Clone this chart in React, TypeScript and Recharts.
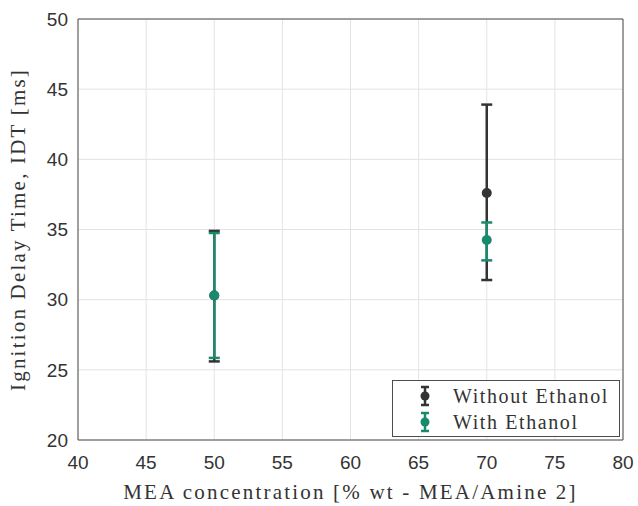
import React from "react";
import {
  ScatterChart,
  Scatter,
  XAxis,
  YAxis,
  CartesianGrid,
  ErrorBar,
  ReferenceLine,
} from "recharts";

const concentrations = [50, 70];
const withoutMean = [30.3, 37.6];
const withoutLow = [4.7, 6.2];
const withoutHigh = [4.6, 6.3];
const withMean = [30.3, 34.25];
const withLow = [4.45, 1.45];
const withHigh = [4.45, 1.25];
const xTicks = [40, 45, 50, 55, 60, 65, 70, 75, 80];
const yTicks = [20, 25, 30, 35, 40, 45, 50];

const DARK = "#333333";
const GREEN = "#1a8a6c";
const AXIS = "#4d4d4d";
const TEXT = "#333333";
const SERIF = "'Liberation Serif', 'DejaVu Serif', serif";
const SANS = "'Liberation Sans', Arial, sans-serif";

const withoutData = concentrations.map((x, i) => ({
  x,
  y: withoutMean[i],
  err: [withoutLow[i], withoutHigh[i]],
}));
const withData = concentrations.map((x, i) => ({
  x,
  y: withMean[i],
  err: [withLow[i], withHigh[i]],
}));

function LegendIcon({ color }: { color: string }) {
  return (
    <svg width={14} height={22} style={{ display: "block" }}>
      <line x1={7} y1={2} x2={7} y2={20} stroke={color} strokeWidth={2.5} />
      <line x1={3} y1={2} x2={11} y2={2} stroke={color} strokeWidth={2.5} />
      <line x1={3} y1={20} x2={11} y2={20} stroke={color} strokeWidth={2.5} />
      <circle cx={7} cy={11} r={4.5} fill={color} />
    </svg>
  );
}

function LegendBox() {
  const items = [
    { label: "Without Ethanol", color: DARK },
    { label: "With Ethanol", color: GREEN },
  ];
  return (
    <div
      style={{
        position: "absolute",
        left: 392,
        top: 380,
        border: `1px solid ${AXIS}`,
        background: "#fff",
        width: 228,
        height: 57,
        boxSizing: "border-box",
        padding: "2px 0 0 25px",
        fontFamily: SERIF,
        fontSize: 20,
        letterSpacing: 1.6,
        color: TEXT,
        whiteSpace: "nowrap",
      }}
    >
      {items.map((it) => (
        <div
          key={it.label}
          style={{ display: "flex", alignItems: "center", height: 26 }}
        >
          <LegendIcon color={it.color} />
          <span style={{ marginLeft: 21 }}>{it.label}</span>
        </div>
      ))}
    </div>
  );
}

export default function App() {
  return (
    <div
      style={{
        position: "absolute",
        left: 0,
        top: 0,
        width: 638,
        height: 506,
        background: "#fff",
      }}
    >
      <ScatterChart
        width={638}
        height={506}
        margin={{ top: 19, right: 15, bottom: 0, left: 0 }}
      >
        <CartesianGrid stroke="#e3e3e3" strokeWidth={1} />
        <XAxis
          type="number"
          dataKey="x"
          domain={[40, 80]}
          ticks={xTicks}
          height={66}
          stroke={AXIS}
          tickLine={false}
          tickMargin={10}
          tick={{ fontSize: 19, fill: TEXT, fontFamily: SANS }}
          label={{
            value: "MEA concentration [% wt - MEA/Amine 2]",
            position: "insideBottom",
            offset: 7,
            style: {
              fontSize: 21,
              fill: TEXT,
              fontFamily: SERIF,
              letterSpacing: 2.2,
            },
          }}
        />
        <YAxis
          type="number"
          dataKey="y"
          domain={[20, 50]}
          ticks={yTicks}
          width={78}
          stroke={AXIS}
          tickLine={false}
          tickMargin={4}
          tick={{ fontSize: 19, fill: TEXT, fontFamily: SANS }}
          label={{
            value: "Ignition Delay Time, IDT [ms]",
            angle: -90,
            position: "insideLeft",
            offset: 18,
            style: {
              fontSize: 21,
              fill: TEXT,
              fontFamily: SERIF,
              letterSpacing: 2.2,
              textAnchor: "middle",
            },
          }}
        />
        <ReferenceLine y={50} stroke={AXIS} ifOverflow="visible" />
        <ReferenceLine x={80} stroke={AXIS} ifOverflow="visible" />
        <Scatter
          name="Without Ethanol"
          data={withoutData}
          fill={DARK}
          isAnimationActive={false}
          shape={(p: any) => <circle cx={p.cx} cy={p.cy} r={5} fill={DARK} />}
        >
          <ErrorBar
            dataKey="err"
            direction="y"
            width={5.5}
            stroke={DARK}
            strokeWidth={2.5}
            isAnimationActive={false}
          />
        </Scatter>
        <Scatter
          name="With Ethanol"
          data={withData}
          fill={GREEN}
          isAnimationActive={false}
          shape={(p: any) => <circle cx={p.cx} cy={p.cy} r={5} fill={GREEN} />}
        >
          <ErrorBar
            dataKey="err"
            direction="y"
            width={5.5}
            stroke={GREEN}
            strokeWidth={2.5}
            isAnimationActive={false}
          />
        </Scatter>
      </ScatterChart>
      <LegendBox />
    </div>
  );
}
